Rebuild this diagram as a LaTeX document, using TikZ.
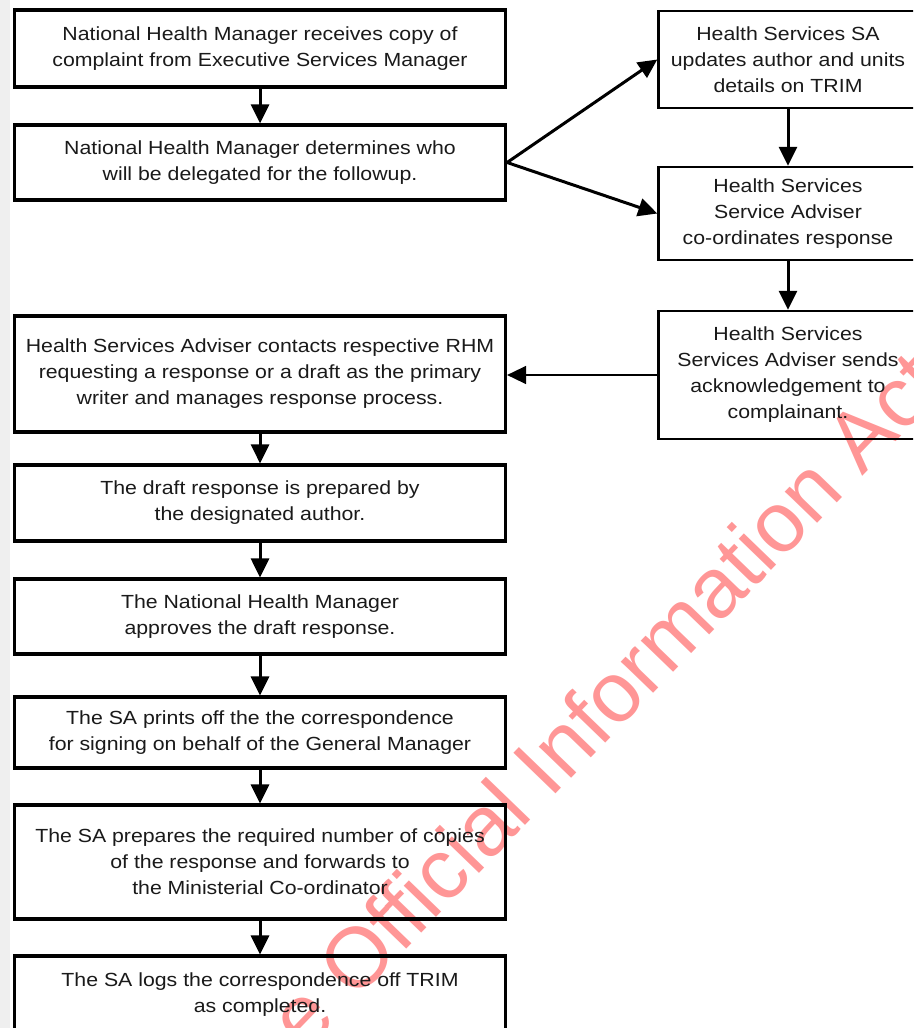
\documentclass[tikz,border=0pt]{standalone}
\usepackage{fontspec}
\setmainfont{Liberation Sans}
\newfontfamily\boxfont[FakeStretch=1.12]{Liberation Sans}
\usetikzlibrary{arrows.meta}
\definecolor{ink}{HTML}{1A1A1A}
\definecolor{wmred}{RGB}{255,150,150}
\definecolor{strip}{HTML}{EFEFEF}

\begin{document}
\begin{tikzpicture}[x=1pt,y=-1pt,
  every node/.style={font=\boxfont\fontsize{19}{26}\selectfont, text=ink, align=center, inner sep=0pt},
  leftbox/.style={draw=black, line width=3.2pt, minimum width=491pt},
  rightbox/.style={draw=black, line width=2.4pt, minimum width=259pt},
  flow/.style={draw=black, line width=3pt, -{Triangle[width=18pt,length=19pt]}},
  thinflow/.style={draw=black, line width=1.5pt, -{Triangle[width=18pt,length=19pt]}},
  wm/.style={font=\fontsize{85}{85}\selectfont, text=wmred, rotate=46}]

% page frame and the grey strip on the left
\useasboundingbox (0,0) rectangle (913,1028);
\fill[white] (0,0) rectangle (913,1028);
\fill[strip] (0,0) rectangle (10,1028);

\begin{scope}
\clip (0,0) rectangle (913,1028);

% watermark, behind the chart
\node[wm, anchor=base west] (wmB) at (355,1002) {Official Information Act};
\node[wm, anchor=base east] (wmA) at (wmB.base west) {Released under the\ };

% main column
\node[leftbox, minimum height=77pt]  (b1) at (260,48.5)
  {National Health Manager receives copy of\\complaint from Executive Services Manager};
\node[leftbox, minimum height=75pt]  (b2) at (260,162.5)
  {National Health Manager determines who\\will be delegated for the followup.};
\node[leftbox, minimum height=116pt] (b3) at (260,374)
  {Health Services Adviser contacts respective RHM\\requesting a response or a draft as the primary\\writer and manages response process.};
\node[leftbox, minimum height=76pt]  (b4) at (260,503)
  {The draft response is prepared by\\the designated author.};
\node[leftbox, minimum height=75pt]  (b5) at (260,616.5)
  {The National Health Manager\\approves the draft response.};
\node[leftbox, minimum height=71pt]  (b6) at (260,732.5)
  {The SA prints off the the correspondence\\for signing on behalf of the General Manager};
\node[leftbox, minimum height=114pt] (b7) at (260,862)
  {The SA prepares the required number of copies\\of the response and forwards to\\the Ministerial Co-ordinator};
\node[leftbox, minimum height=78pt]  (b8) at (260,995)
  {The SA logs the correspondence off TRIM\\as completed.};

% side column
\node[rightbox, minimum height=97pt]  (r1) at (788,59.5)
  {Health Services SA\\updates author and units\\details on TRIM};
\node[rightbox, minimum height=93pt]  (r2) at (788,213.5)
  {Health Services\\Service Adviser\\co-ordinates response};
\node[rightbox, minimum height=128pt] (r3) at (788,375)
  {Health Services\\Services Adviser sends\\acknowledgement to\\complainant.};

% connectors
\draw[flow] (b1) -- (b2);
\draw[flow] (b2.east) -- (r1.west);
\draw[flow] (b2.east) -- (r2.west);
\draw[flow] (r1) -- (r2);
\draw[flow] (r2) -- (r3);
\draw[thinflow] (r3.west) -- (b3.east |- r3.west);
\draw[flow] (b3) -- (b4);
\draw[flow] (b4) -- (b5);
\draw[flow] (b5) -- (b6);
\draw[flow] (b6) -- (b7);
\draw[flow] (b7) -- (b8);
\end{scope}
\end{tikzpicture}
\end{document}
